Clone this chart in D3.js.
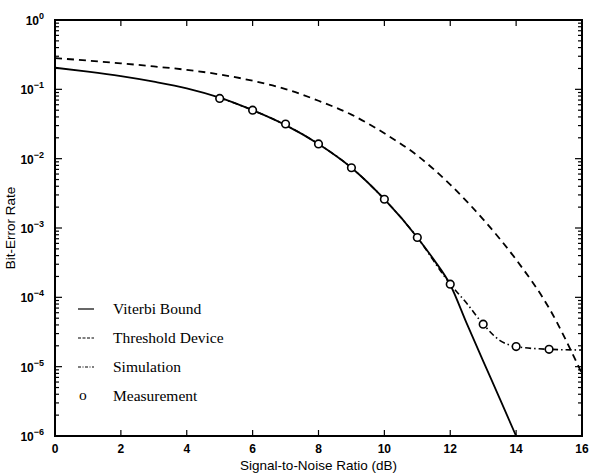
<!DOCTYPE html>
<html lang="en">
<head>
<meta charset="UTF-8">
<title>Bit-Error Rate vs SNR</title>
<script src="https://d3js.org/d3.v7.min.js"></script>
<style>
  body { margin: 0; background: #fff; }
  .tick-label { font-family: "Liberation Sans", Arial, sans-serif; font-size: 12px; font-weight: bold; }
  .axis-title { font-family: "Liberation Sans", Arial, sans-serif; font-size: 13.5px; }
  .legend text { font-family: "Liberation Serif", "Times New Roman", serif; font-size: 15.5px; }
</style>
</head>
<body>
<div id="chart"></div>
<script>
// Data (BER, log scale)
const viterbiX = [0, 1, 2, 3, 4, 5, 6, 7, 8, 9, 10, 11, 11.5, 12, 12.5, 13, 13.5, 14];
const viterbiY = [0.205, 0.180, 0.155, 0.129, 0.1035, 0.0759, 0.050, 0.0305, 0.0163, 0.0074, 0.0026, 7.3e-4, 3.5e-4, 1.52e-4, 4.2e-5, 1.2e-5, 3.5e-6, 1e-6];

const thresholdX = [0, 1, 2, 3, 4, 5, 6, 7, 8, 9, 10, 11, 12, 13, 14, 15, 16];
const thresholdY = [0.282, 0.260, 0.237, 0.214, 0.191, 0.164, 0.133, 0.101, 0.0684, 0.0432, 0.0232, 0.0111, 0.00422, 0.00133, 3.5e-4, 7.0e-5, 7.9e-6];

const simulationX = [5, 6, 7, 8, 9, 10, 11, 12, 12.5, 13, 13.5, 14, 15, 16];
const simulationY = [0.0759, 0.050, 0.0305, 0.0163, 0.0074, 0.0026, 7.3e-4, 1.55e-4, 8.2e-5, 4.1e-5, 2.4e-5, 1.95e-5, 1.78e-5, 1.74e-5];

const measureX = [5, 6, 7, 8, 9, 10, 11, 12, 13, 14, 15];
const measureY = [0.074, 0.050, 0.0316, 0.0163, 0.0074, 0.0026, 7.3e-4, 1.55e-4, 4.1e-5, 1.95e-5, 1.78e-5];

const xTicks = [0, 2, 4, 6, 8, 10, 12, 14, 16];
const yExponents = [0, -1, -2, -3, -4, -5, -6];

const legendLabels = ["Viterbi Bound", "Threshold Device", "Simulation", "Measurement"];

const W = 590, H = 473;
const margin = { top: 20, right: 8, bottom: 37, left: 55 };
const width = W - margin.left - margin.right;
const height = H - margin.top - margin.bottom;

const svg = d3.select("#chart").append("svg")
    .attr("width", W)
    .attr("height", H);

const g = svg.append("g")
    .attr("transform", `translate(${margin.left},${margin.top})`);

const x = d3.scaleLinear().domain([0, 16]).range([0, width]);
const y = d3.scaleLog().domain([1e-6, 1]).range([height, 0]);

// clip so curves stay in the box
g.append("clipPath").attr("id", "clip")
    .append("rect").attr("width", width).attr("height", height);

// ticks (inward, MATLAB style)
const minorVals = [];
for (let e = -6; e < 0; e++) {
    for (let m = 2; m <= 9; m++) minorVals.push(m * Math.pow(10, e));
}
const majorVals = yExponents.map(e => Math.pow(10, e));

const tickG = g.append("g").attr("stroke", "#000").attr("stroke-width", 1.2);
[0, width].forEach(x0 => {
    const dir = x0 === 0 ? 1 : -1;
    tickG.selectAll(null).data(majorVals).join("line")
        .attr("x1", x0).attr("x2", x0 + dir * 7)
        .attr("y1", d => y(d)).attr("y2", d => y(d));
    tickG.selectAll(null).data(minorVals).join("line")
        .attr("x1", x0).attr("x2", x0 + dir * 4)
        .attr("y1", d => y(d)).attr("y2", d => y(d));
});
[0, height].forEach(y0 => {
    const dir = y0 === 0 ? 1 : -1;
    tickG.selectAll(null).data(xTicks).join("line")
        .attr("x1", d => x(d)).attr("x2", d => x(d))
        .attr("y1", y0).attr("y2", y0 + dir * 6);
});

// tick labels
g.selectAll(".xlab").data(xTicks).join("text")
    .attr("class", "tick-label")
    .attr("x", d => x(d))
    .attr("y", height + 17)
    .attr("text-anchor", "middle")
    .text(d => d);

const ylab = g.selectAll(".ylab").data(yExponents).join("text")
    .attr("class", "tick-label")
    .attr("x", -11)
    .attr("y", d => y(Math.pow(10, d)) + 5)
    .attr("text-anchor", "end");
ylab.append("tspan").text("10");
ylab.append("tspan")
    .attr("dy", -6)
    .attr("font-size", 9)
    .text(d => d === 0 ? "0" : "\u2212" + Math.abs(d));

// axis titles
g.append("text").attr("class", "axis-title")
    .attr("x", width / 2)
    .attr("y", height + 34)
    .attr("text-anchor", "middle")
    .text("Signal-to-Noise Ratio (dB)");

g.append("text").attr("class", "axis-title")
    .attr("transform", `translate(${-40},${height / 2}) rotate(-90)`)
    .attr("text-anchor", "middle")
    .text("Bit-Error Rate");

// curves
const line = d3.line()
    .x(d => x(d[0]))
    .y(d => y(d[1]))
    .curve(d3.curveMonotoneX);

const plot = g.append("g").attr("clip-path", "url(#clip)");

plot.append("path")
    .datum(d3.zip(simulationX, simulationY))
    .attr("fill", "none").attr("stroke", "#000").attr("stroke-width", 1.6)
    .attr("stroke-dasharray", "6,3,1.5,3")
    .attr("d", line);

plot.append("path")
    .datum(d3.zip(viterbiX, viterbiY))
    .attr("fill", "none").attr("stroke", "#000").attr("stroke-width", 1.8)
    .attr("d", line);

plot.append("path")
    .datum(d3.zip(thresholdX, thresholdY))
    .attr("fill", "none").attr("stroke", "#000").attr("stroke-width", 1.8)
    .attr("stroke-dasharray", "7,5")
    .attr("d", line);

plot.selectAll(".meas").data(d3.zip(measureX, measureY)).join("circle")
    .attr("cx", d => x(d[0]))
    .attr("cy", d => y(d[1]))
    .attr("r", 3.8)
    .attr("fill", "#fff")
    .attr("stroke", "#000")
    .attr("stroke-width", 1.6);

// box
g.append("rect")
    .attr("width", width).attr("height", height)
    .attr("fill", "none").attr("stroke", "#000").attr("stroke-width", 2);

// legend
const legend = g.append("g").attr("class", "legend")
    .attr("transform", `translate(23, ${289})`);
const dashes = [null, "3,1.5", "3,1.5,1,1.5"];
legendLabels.forEach((lab, i) => {
    const row = legend.append("g").attr("transform", `translate(0, ${i * 29})`);
    if (i < 3) {
        row.append("line")
            .attr("x1", 0).attr("x2", 16)
            .attr("y1", 0).attr("y2", 0)
            .attr("stroke", "#000").attr("stroke-width", 1.2)
            .attr("stroke-dasharray", dashes[i]);
    } else {
        row.append("text").attr("x", 1).attr("y", 4).text("o");
    }
    row.append("text").attr("x", 35).attr("y", 5).text(lab);
});
</script>
</body>
</html>
